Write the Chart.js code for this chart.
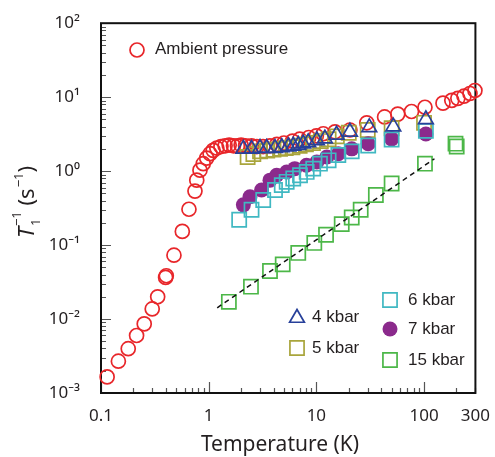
<!DOCTYPE html>
<html>
<head>
<meta charset="utf-8">
<script src="https://cdn.jsdelivr.net/npm/chart.js@4.4.1/dist/chart.umd.min.js"></script>
<style>
  html, body { margin: 0; padding: 0; background: #fff; }
  canvas { display: block; }
</style>
</head>
<body>
<canvas id="c" width="495" height="457"></canvas>
<script>
// temperatures (K) and relaxation rates 1/T1 (s^-1)
const ambientT = [0.114, 0.145, 0.179, 0.214, 0.252, 0.299, 0.336, 0.398, 0.404, 0.476, 0.569, 0.656, 0.746, 0.775, 0.83, 0.89, 0.958, 1.03, 1.10, 1.19, 1.3, 1.42, 1.55, 1.7, 1.85, 2.0, 2.2, 2.5, 2.8, 3.2, 3.7, 4.3, 5, 6, 7, 8.5, 10, 11.6, 14.9, 20.5, 29.4, 43, 57, 76.5, 102, 150, 181, 206, 235, 267, 297];
const ambientR = [0.00165, 0.00269, 0.00397, 0.00599, 0.0086, 0.0137, 0.020, 0.0365, 0.0385, 0.073, 0.153, 0.305, 0.537, 0.755, 1.03, 1.26, 1.50, 1.72, 1.91, 2.05, 2.15, 2.2, 2.25, 2.2, 2.2, 2.25, 2.2, 2.2, 2.15, 2.15, 2.2, 2.3, 2.4, 2.55, 2.7, 2.85, 3.0, 3.2, 3.4, 3.6, 4.5, 5.4, 5.9, 6.4, 7.3, 8.3, 9.06, 9.63, 10.3, 11.2, 12.3];

const kbar4T = [2.1, 2.5, 3.0, 3.46, 4.13, 4.77, 5.49, 6.1, 6.8, 7.55, 8.4, 10.1, 12.0, 15.4, 20.5, 31, 51.8, 104];
const kbar4R = [2.0, 2.0, 2.05, 2.05, 2.05, 2.1, 2.15, 2.2, 2.25, 2.35, 2.45, 2.6, 2.75, 3.1, 3.4, 3.9, 4.0, 5.0];

const kbar5T = [2.3, 2.6, 3.0, 3.5, 4.0, 4.6, 5.2, 6.0, 7.0, 8.0, 9.3, 11, 13, 15.5, 20, 30, 50, 100];
const kbar5R = [1.55, 1.7, 1.85, 1.9, 1.95, 2.0, 2.05, 2.1, 2.2, 2.3, 2.4, 2.55, 2.7, 2.95, 3.3, 3.6, 3.8, 4.5];

const kbar6T = [1.92, 2.5, 3.21, 4.13, 4.77, 5.3, 6.1, 7.05, 8.13, 9.35, 10.8, 13, 16, 21.3, 30.3, 50, 104];
const kbar6R = [0.22, 0.3, 0.407, 0.555, 0.647, 0.717, 0.794, 0.88, 0.975, 1.08, 1.26, 1.4, 1.65, 1.85, 2.22, 2.68, 3.5];

const kbar7T = [2.1, 2.42, 3.1, 3.71, 4.28, 5.3, 6.3, 8.1, 10.1, 12.5, 16, 21.3, 30.3, 50, 104];
const kbar7R = [0.35, 0.45, 0.555, 0.755, 0.88, 0.975, 1.08, 1.2, 1.33, 1.55, 1.72, 2.0, 2.34, 2.73, 3.18];

const kbar15T = [1.54, 2.47, 3.71, 4.87, 6.79, 9.57, 12.3, 17.2, 21.3, 25.8, 35.7, 50, 102, 196, 201];
const kbar15R = [0.0171, 0.0274, 0.0446, 0.0548, 0.0783, 0.107, 0.138, 0.192, 0.236, 0.3, 0.475, 0.681, 1.26, 2.35, 2.15];

// dashed guide line (slope 1)
const fitT = [1.2, 125];
const fitR = [0.0142, 1.47];

const xTicks = [0.1, 1, 10, 100, 300];
const xTickLabels = ['0.1', '1', '10', '100', '300'];
const yTicks = [1e-3, 1e-2, 1e-1, 1, 10, 100];
const yTickLabels = ['10⁻³', '10⁻²', '10⁻¹', '10⁰', '10¹', '10²'];

const ink = '#231f20';
const axisFont = '"Noto Sans", sans-serif';
const legendFont = '"Liberation Sans", Arial, sans-serif';

const pts = (xs, ys) => xs.map((x, i) => ({ x, y: ys[i] }));

const styles = {
  ambient: { pointStyle: 'circle', radius: 7, color: '#e8262a', fill: false, bw: 1.7 },
  k4: { pointStyle: 'triangle', radius: 8.5, color: '#27409a', fill: false, bw: 1.7 },
  k5: { pointStyle: 'rect', radius: 10, color: '#a9a53c', fill: false, bw: 1.7 },
  k6: { pointStyle: 'rect', radius: 10, color: '#40b8c2', fill: false, bw: 1.7 },
  k7: { pointStyle: 'circle', radius: 7.5, color: '#8b2a8c', fill: true, bw: 0 },
  k15: { pointStyle: 'rect', radius: 10, color: '#4cb748', fill: false, bw: 1.7 }
};

function series(label, data, st, order) {
  return {
    label, data, order, clip: false, showLine: false,
    pointStyle: st.pointStyle,
    pointRadius: st.radius,
    pointHoverRadius: st.radius,
    pointBorderWidth: st.bw,
    pointBorderColor: st.color,
    pointBackgroundColor: st.fill ? st.color : 'rgba(0,0,0,0)'
  };
}

const datasets = [
  {
    label: 'fit', data: pts(fitT, fitR), order: 1, showLine: true,
    borderColor: '#111', borderWidth: 1.5, borderDash: [5, 4], pointRadius: 0, clip: false
  },
  series('15 kbar', pts(kbar15T, kbar15R), styles.k15, 2),
  series('4 kbar', pts(kbar4T, kbar4R), styles.k4, 3),
  series('6 kbar', pts(kbar6T, kbar6R), styles.k6, 4),
  series('7 kbar', pts(kbar7T, kbar7R), styles.k7, 5),
  series('5 kbar', pts(kbar5T, kbar5R), styles.k5, 6),
  series('Ambient pressure', pts(ambientT, ambientR), styles.ambient, 7)
];

function marker(ctx, st, x, y) {
  ctx.save();
  ctx.strokeStyle = st.color;
  ctx.fillStyle = st.fill ? st.color : 'rgba(0,0,0,0)';
  ctx.lineWidth = st.bw;
  Chart.helpers.drawPoint(ctx, { pointStyle: st.pointStyle, radius: st.radius, borderWidth: st.bw, rotation: 0 }, x, y);
  ctx.restore();
}

// box + inward ticks on left and bottom axes
const framePlugin = {
  id: 'frame',
  beforeDatasetsDraw(chart) {
    const { ctx, chartArea: a, scales: { x, y } } = chart;
    ctx.save();
    ctx.strokeStyle = '#555';
    ctx.lineWidth = 1.2;
    ctx.beginPath();
    for (let d = -3; d <= 1; d++) {
      for (let k = 1; k <= 9; k++) {
        const v = k * Math.pow(10, d);
        const py = Math.round(y.getPixelForValue(v)) + 0.5;
        const len = k === 1 ? 10 : 5;
        ctx.moveTo(a.left, py);
        ctx.lineTo(a.left + len, py);
      }
    }
    for (let d = -1; d <= 2; d++) {
      for (let k = 1; k <= 9; k++) {
        const v = k * Math.pow(10, d);
        if (v > 300) break;
        const px = Math.round(x.getPixelForValue(v)) + 0.5;
        const len = k === 1 ? 11 : 5;
        ctx.moveTo(px, a.bottom);
        ctx.lineTo(px, a.bottom - len);
      }
    }
    ctx.stroke();
    ctx.strokeStyle = '#111';
    ctx.lineWidth = 2;
    ctx.strokeRect(a.left, a.top, a.right - a.left, a.bottom - a.top);
    ctx.restore();
  },
  afterDraw(chart) {
    const { ctx } = chart;
    ctx.save();
    ctx.fillStyle = ink;
    ctx.textBaseline = 'middle';
    ctx.textAlign = 'left';

    // legends
    ctx.font = '17px ' + legendFont;
    marker(ctx, styles.ambient, 137, 50);
    ctx.fillText('Ambient pressure', 155, 49);
    marker(ctx, styles.k4, 297, 318);
    ctx.fillText('4 kbar', 312, 317);
    marker(ctx, styles.k5, 297, 348);
    ctx.fillText('5 kbar', 312, 348);
    marker(ctx, styles.k6, 390, 300);
    ctx.fillText('6 kbar', 408, 300);
    marker(ctx, styles.k7, 390, 329);
    ctx.fillText('7 kbar', 408, 329);
    marker(ctx, styles.k15, 390, 360);
    ctx.fillText('15 kbar', 408, 360);

    // x title
    ctx.textAlign = 'center';
    ctx.font = '21px ' + axisFont;
    ctx.fillText('Temperature (K)', 280, 445);

    // y title: T1^-1 (s^-1), rotated
    ctx.translate(34, 202);
    ctx.rotate(-Math.PI / 2);
    ctx.textAlign = 'left';
    ctx.textBaseline = 'alphabetic';
    const big = '22px ' + axisFont, small = '13px ' + axisFont;
    ctx.font = 'italic ' + big;
    const wT = ctx.measureText('T').width;
    ctx.font = small;
    const wSup = ctx.measureText('−1').width;
    ctx.font = big;
    const wOpen = ctx.measureText(' (s').width;
    const wClose = ctx.measureText(')').width;
    const total = wT + wSup + 1 + wOpen + wSup + 1 + wClose;
    let cx = -total / 2;
    ctx.font = 'italic ' + big;
    ctx.fillText('T', cx, 0);
    cx += wT + 1;
    ctx.font = small;
    ctx.fillText('1', cx, 6);
    ctx.fillText('−1', cx, -13);
    cx += wSup;
    ctx.font = big;
    ctx.fillText(' (s', cx, 0);
    cx += wOpen + 1;
    ctx.font = small;
    ctx.fillText('−1', cx, -11);
    cx += wSup;
    ctx.font = big;
    ctx.fillText(')', cx, 0);
    ctx.restore();
  }
};

new Chart(document.getElementById('c'), {
  type: 'scatter',
  data: { datasets },
  options: {
    responsive: false,
    animation: false,
    devicePixelRatio: 1,
    layout: { padding: { top: 20, right: 19, left: 0, bottom: 0 } },
    plugins: { legend: { display: false }, tooltip: { enabled: false } },
    scales: {
      x: {
        type: 'logarithmic', min: 0.1, max: 300,
        grid: { display: false }, border: { display: false },
        afterBuildTicks: s => { s.ticks = xTicks.map(v => ({ value: v })); },
        afterFit: s => { s.height = 64; },
        ticks: {
          autoSkip: false, maxRotation: 0, padding: 5, color: ink,
          font: { family: axisFont, size: 17 },
          callback: (v, i) => xTickLabels[i]
        }
      },
      y: {
        type: 'logarithmic', min: 1e-3, max: 100,
        grid: { display: false }, border: { display: false },
        afterBuildTicks: s => { s.ticks = yTicks.map(v => ({ value: v })); },
        afterFit: s => { s.width = 101; },
        ticks: {
          autoSkip: false, padding: 13, color: ink,
          font: { family: axisFont, size: 17 },
          callback: (v, i) => yTickLabels[i]
        }
      }
    }
  },
  plugins: [framePlugin]
});
</script>
</body>
</html>
